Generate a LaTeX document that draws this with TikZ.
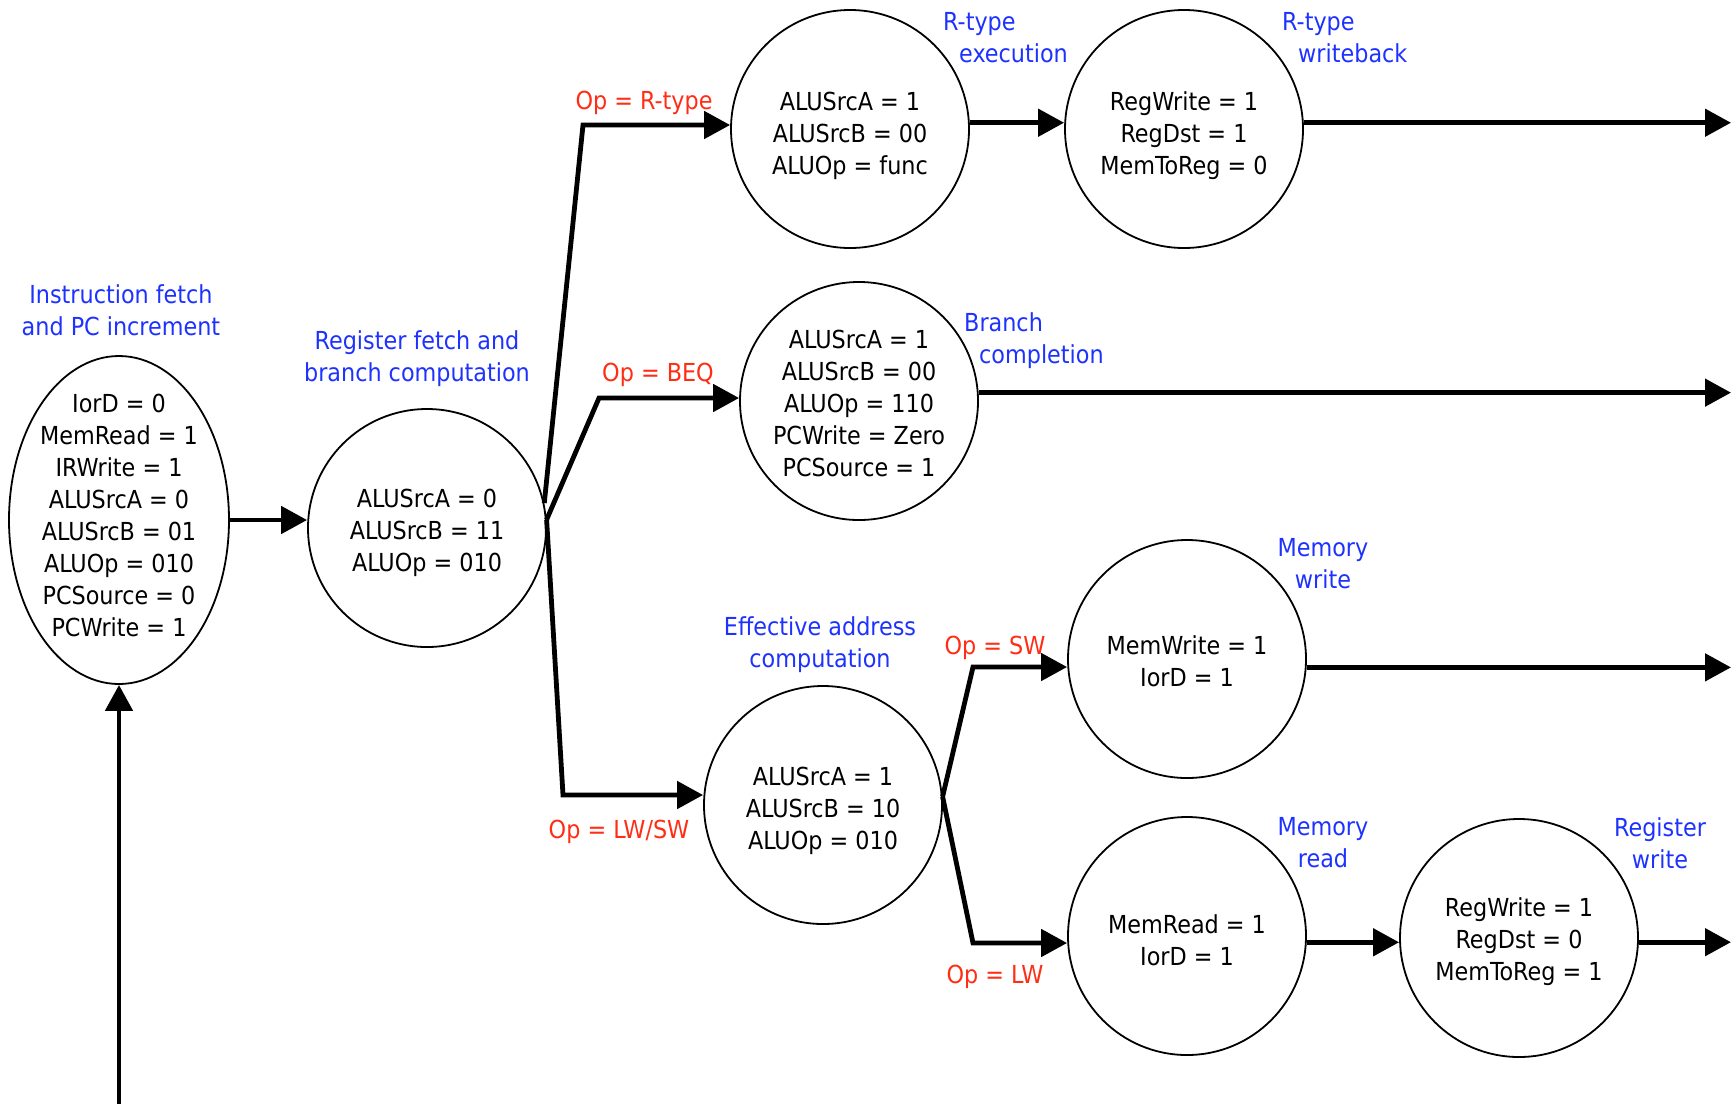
\documentclass[tikz,border=0pt]{standalone}
\usepackage{fontspec}
\setmainfont{DejaVu Sans Condensed}
\usetikzlibrary{arrows.meta,shapes.geometric}
\definecolor{lblblue}{RGB}{30,50,255}
\definecolor{lblred}{RGB}{255,45,20}
\begin{document}
\begin{tikzpicture}[x=1pt,y=-1pt,
  every node/.style={font=\fontsize{24.8}{32}\selectfont},
  state/.style={draw, circle, minimum size=238pt, inner sep=0pt, line width=1.8pt},
  txt/.style={align=center, inner sep=0pt, yshift=-5pt},
  desc/.style={text=lblblue, align=center, inner sep=0pt},
  cond/.style={text=lblred, inner sep=0pt},
  arr/.style={line width=4.8pt, line join=miter, -{Triangle[length=26pt,width=27pt]}}
]
\useasboundingbox (0,0) rectangle (1731,1104);

% states
\node[draw, ellipse, minimum width=220pt, minimum height=328pt, inner sep=0pt, line width=1.8pt,
  label={[txt,yshift=10pt]center:{IorD = 0\\MemRead = 1\\IRWrite = 1\\ALUSrcA = 0\\ALUSrcB = 01\\ALUOp = 010\\PCSource = 0\\PCWrite = 1}}]
  (ifetch) at (119,520) {};
\node[state, label={[txt]center:{ALUSrcA = 0\\ALUSrcB = 11\\ALUOp = 010}}] (regfetch) at (427,528) {};
\node[state, label={[txt,yshift=-2pt]center:{ALUSrcA = 1\\ALUSrcB = 00\\ALUOp = func}}] (rtexec) at (850,129) {};
\node[state, label={[txt,yshift=-2pt]center:{RegWrite = 1\\RegDst = 1\\MemToReg = 0}}] (rtwb) at (1184,129) {};
\node[state, label={[txt,yshift=2.5pt]center:{ALUSrcA = 1\\ALUSrcB = 00\\ALUOp = 110\\PCWrite = Zero\\PCSource = 1}}] (branch) at (859,401) {};
\node[state, label={[txt,yshift=-1pt]center:{ALUSrcA = 1\\ALUSrcB = 10\\ALUOp = 010}}] (eff) at (823,805) {};
\node[state, label={[txt,yshift=3pt]center:{MemWrite = 1\\IorD = 1}}] (memw) at (1187,659) {};
\node[state, label={[txt,yshift=1pt]center:{MemRead = 1\\IorD = 1}}] (memr) at (1187,936) {};
\node[state, label={[txt,yshift=1pt]center:{RegWrite = 1\\RegDst = 0\\MemToReg = 1}}] (regw) at (1519,938) {};

% state descriptions
\node[desc] (lif) at (121,310) {Instruction fetch\\and PC increment};
\node[desc] (lrf) at (417,359) {Register fetch and\\branch computation};
\node[desc, anchor=west, align=left] (lrx) at (943,37.5) {R-type\\\hspace*{16pt}execution};
\node[desc, anchor=west, align=left] (lrw) at (1282,37.5) {R-type\\\hspace*{16pt}writeback};
\node[desc, anchor=west, align=left] (lbc) at (964,341) {Branch\\\hspace*{15pt}completion};
\node[desc] (lea) at (820,645) {Effective address\\computation};
\node[desc] (lmw) at (1323,564) {Memory\\write};
\node[desc] (lmr) at (1323,843) {Memory\\read};
\node[desc] (lrg) at (1660,843) {Register\\write};

% conditions
\node[cond] (cR) at (644,103) {Op = R-type};
\node[cond] (cB) at (658,375) {Op = BEQ};
\node[cond] (cLS) at (619,832) {Op = LW/SW};
\node[cond] (cS) at (995,648) {Op = SW};
\node[cond] (cL) at (995,977) {Op = LW};

% bend points and free ends
\coordinate (bR) at (583,125);
\coordinate (bB) at (599,398);
\coordinate (bL) at (563,795);
\coordinate (bS) at (973,667);
\coordinate (bW) at (973,943);
\coordinate (o1) at (1731,123);
\coordinate (in) at (119,1104);

% connectors
\draw[arr] (in) -- (ifetch.south);
\draw[arr] (ifetch.east) -- (ifetch.east -| regfetch.west);
\draw[arr] (regfetch.12) -- (bR) -- (bR -| rtexec.west);
\draw[arr] (regfetch.4) -- (bB) -- (bB -| branch.west);
\draw[arr] (regfetch.4) -- (bL) -- (bL -| eff.west);
\draw[arr] (rtexec.3) -- (rtexec.3 -| rtwb.west);
\draw[arr] (rtwb.3) -- (rtwb.3 -| o1);
\draw[arr] (branch.4) -- (branch.4 -| o1);
\draw[arr] (eff.4) -- (bS) -- (bS -| memw.west);
\draw[arr] (eff.4) -- (bW) -- (bW -| memr.west);
\draw[arr] (memw.-4) -- (memw.-4 -| o1);
\draw[arr] (memr.-3.3) -- (memr.-3.3 -| regw.west);
\draw[arr] (regw.-2.4) -- (regw.-2.4 -| o1);
\end{tikzpicture}
\end{document}
